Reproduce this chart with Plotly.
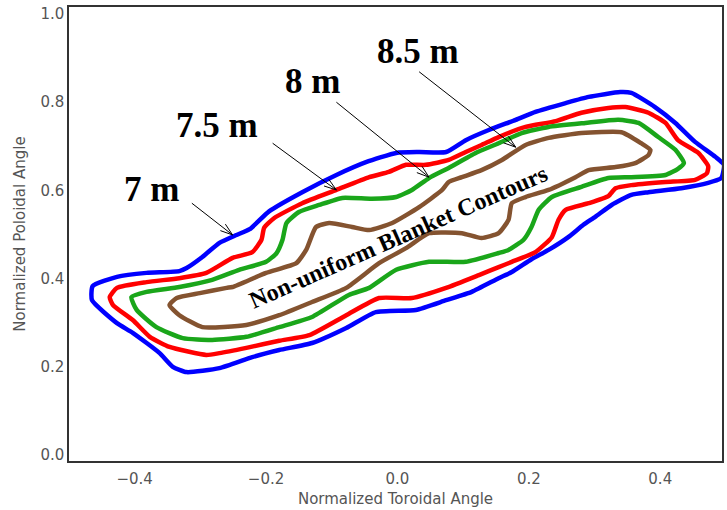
import math
import plotly.graph_objects as go

# ---------------- data (normalized angles) ----------------
blue_x = [-0.465, -0.464, -0.427, -0.382, -0.332, -0.321, -0.297, -0.271, -0.245, -0.225, -0.195, -0.145,
          -0.093, -0.048, -0.002, 0.033, 0.074, 0.104, 0.139, 0.180, 0.210, 0.256, 0.291, 0.339, 0.356,
          0.392, 0.423, 0.453, 0.484, 0.497, 0.493, 0.473, 0.432, 0.382, 0.356, 0.326, 0.301, 0.283,
          0.260, 0.230, 0.204, 0.174, 0.154, 0.113, 0.074, 0.028, -0.033, -0.078, -0.130, -0.180,
          -0.221, -0.271, -0.321, -0.342, -0.362, -0.403, -0.427]
blue_y = [0.351, 0.383, 0.404, 0.413, 0.417, 0.424, 0.449, 0.481, 0.499, 0.512, 0.553, 0.596,
          0.635, 0.664, 0.685, 0.687, 0.687, 0.714, 0.737, 0.760, 0.778, 0.798, 0.812, 0.823, 0.821,
          0.789, 0.753, 0.710, 0.676, 0.658, 0.628, 0.617, 0.605, 0.596, 0.590, 0.567, 0.540, 0.522,
          0.494, 0.465, 0.444, 0.415, 0.401, 0.370, 0.351, 0.329, 0.324, 0.288, 0.254, 0.238,
          0.222, 0.197, 0.188, 0.200, 0.231, 0.277, 0.299]

red_x = [-0.438, -0.427, -0.382, -0.332, -0.291, -0.251, -0.221, -0.207, -0.203, -0.188, -0.145, -0.093,
         -0.043, -0.013, 0.013, 0.043, 0.078, 0.104, 0.128, 0.154, 0.195, 0.241, 0.280, 0.321, 0.347,
         0.382, 0.408, 0.427, 0.458, 0.473, 0.471, 0.453, 0.408, 0.356, 0.332, 0.321, 0.291, 0.256,
         0.245, 0.235, 0.210, 0.174, 0.154, 0.124, 0.074, 0.022, -0.028, -0.078, -0.134, -0.180,
         -0.230, -0.271, -0.291, -0.347, -0.377, -0.403, -0.433]
red_y = [0.358, 0.379, 0.392, 0.401, 0.413, 0.447, 0.460, 0.488, 0.515, 0.537, 0.571, 0.601,
         0.630, 0.642, 0.658, 0.658, 0.669, 0.687, 0.703, 0.721, 0.744, 0.757, 0.776, 0.787, 0.789,
         0.776, 0.753, 0.714, 0.685, 0.655, 0.639, 0.624, 0.619, 0.612, 0.605, 0.587, 0.571, 0.556,
         0.533, 0.494, 0.460, 0.438, 0.426, 0.408, 0.379, 0.356, 0.356, 0.317, 0.272, 0.259,
         0.243, 0.231, 0.227, 0.245, 0.268, 0.306, 0.340]

green_x = [-0.405, -0.382, -0.332, -0.282, -0.241, -0.200, -0.184, -0.175, -0.169, -0.150, -0.119, -0.084,
           -0.039, -0.002, 0.022, 0.048, 0.078, 0.119, 0.154, 0.189, 0.230, 0.286, 0.336, 0.367, 0.397,
           0.423, 0.436, 0.427, 0.408, 0.356, 0.321, 0.280, 0.235, 0.215, 0.204, 0.192, 0.169, 0.154,
           0.104, 0.048, -0.002, -0.043, -0.074, -0.130, -0.180, -0.230, -0.282, -0.327, -0.367, -0.397]
green_y = [0.358, 0.370, 0.381, 0.397, 0.420, 0.438, 0.458, 0.488, 0.526, 0.551, 0.567, 0.583,
           0.581, 0.585, 0.601, 0.628, 0.651, 0.685, 0.707, 0.730, 0.744, 0.753, 0.760, 0.753, 0.721,
           0.692, 0.662, 0.649, 0.635, 0.630, 0.628, 0.608, 0.585, 0.556, 0.517, 0.488, 0.465, 0.458,
           0.438, 0.438, 0.420, 0.379, 0.363, 0.313, 0.290, 0.268, 0.261, 0.265, 0.290, 0.329]

brown_x = [-0.347, -0.336, -0.301, -0.260, -0.251, -0.200, -0.154, -0.139, -0.124, -0.104, -0.069, -0.043,
           -0.008, 0.033, 0.068, 0.078, 0.098, 0.128, 0.159, 0.195, 0.230, 0.280, 0.341, 0.371, 0.385,
           0.382, 0.362, 0.332, 0.291, 0.271, 0.230, 0.195, 0.174, 0.169, 0.154, 0.128, 0.098, 0.048,
           0.013, -0.028, -0.078, -0.130, -0.180, -0.230, -0.297, -0.332]
brown_y = [0.340, 0.356, 0.367, 0.379, 0.381, 0.413, 0.435, 0.465, 0.517, 0.526, 0.517, 0.510,
           0.526, 0.562, 0.601, 0.619, 0.630, 0.646, 0.669, 0.703, 0.719, 0.730, 0.732, 0.707, 0.692,
           0.680, 0.662, 0.653, 0.646, 0.630, 0.601, 0.585, 0.571, 0.533, 0.503, 0.492, 0.503, 0.503,
           0.469, 0.435, 0.379, 0.347, 0.317, 0.295, 0.290, 0.317]

contour_labels = ["7 m", "7.5 m", "8 m", "8.5 m"]
label_x = [-0.374, -0.274, -0.130, 0.031]
label_y = [0.601, 0.748, 0.848, 0.914]
arrow_tail_x = [-0.313, -0.190, -0.093, 0.033]
arrow_tail_y = [0.571, 0.707, 0.800, 0.869]
arrow_head_x = [-0.251, -0.093, 0.048, 0.180]
arrow_head_y = [0.499, 0.601, 0.630, 0.698]

center_text = "Non-uniform Blanket Contours"
center_text_x = 0.001
center_text_y = 0.494

x_ticks = [-0.4, -0.2, 0.0, 0.2, 0.4]
x_ticktext = ["\u22120.4", "\u22120.2", "0.0", "0.2", "0.4"]
y_ticks = [0.0, 0.2, 0.4, 0.6, 0.8, 1.0]
y_ticktext = ["0.0", "0.2", "0.4", "0.6", "0.8", "1.0"]

# ---------------- layout constants ----------------
W, H = 727, 510
ML, MR, MT, MB = 69, 3, 7, 49
XR = [-0.5, 0.494]
YR = [-0.0136, 1.0159]
PW, PH = W - ML - MR, H - MT - MB

fig = go.Figure()

series = [
    (blue_x, blue_y, "#0000ff", "7 m"),
    (red_x, red_y, "#ff0000", "7.5 m"),
    (green_x, green_y, "#1aa61a", "8 m"),
    (brown_x, brown_y, "#845330", "8.5 m"),
]
for xs, ys, col, name in series:
    fig.add_trace(go.Scatter(
        x=xs + [xs[0]], y=ys + [ys[0]], mode="lines", name=name,
        line=dict(color=col, width=4.5, shape="spline", smoothing=0.5),
        showlegend=False, hoverinfo="skip"))


def to_px(x, y):
    return ((x - XR[0]) / (XR[1] - XR[0]) * PW, (y - YR[0]) / (YR[1] - YR[0]) * PH)


def to_data(px, py):
    return (XR[0] + px / PW * (XR[1] - XR[0]), YR[0] + py / PH * (YR[1] - YR[0]))


shapes = []
for tx, ty, hx, hy in zip(arrow_tail_x, arrow_tail_y, arrow_head_x, arrow_head_y):
    shapes.append(dict(type="line", xref="x", yref="y", x0=tx, y0=ty, x1=hx, y1=hy,
                       line=dict(color="black", width=1)))
    tpx, tpy = to_px(tx, ty)
    hpx, hpy = to_px(hx, hy)
    ang = math.atan2(tpy - hpy, tpx - hpx)
    L = 13
    for da in (0.32, -0.32):
        wx, wy = to_data(hpx + L * math.cos(ang + da), hpy + L * math.sin(ang + da))
        shapes.append(dict(type="line", xref="x", yref="y", x0=hx, y0=hy, x1=wx, y1=wy,
                           line=dict(color="black", width=1)))

annotations = []
for t, x, y in zip(contour_labels, label_x, label_y):
    annotations.append(dict(x=x, y=y, xref="x", yref="y", text="<b>" + t + "</b>", showarrow=False,
                            font=dict(family="Liberation Serif", size=35, color="black"),
                            xanchor="center", yanchor="middle"))
annotations.append(dict(x=center_text_x, y=center_text_y, xref="x", yref="y",
                        text="<b>" + center_text + "</b>", showarrow=False, textangle=-23.7,
                        font=dict(family="Liberation Serif", size=24, color="black"),
                        xanchor="center", yanchor="middle"))

axis_common = dict(showline=True, linecolor="#333333", linewidth=1.5, mirror=True,
                   showgrid=False, zeroline=False, ticks="",
                   tickfont=dict(family="DejaVu Sans", size=15, color="#555555"))

fig.update_layout(
    width=W, height=H,
    margin=dict(l=ML, r=MR, t=MT, b=MB, pad=0),
    paper_bgcolor="white", plot_bgcolor="white",
    xaxis=dict(range=XR, tickvals=x_ticks, ticktext=x_ticktext, ticklabelstandoff=3,
               title=dict(text="Normalized Toroidal Angle", standoff=7,
                          font=dict(family="DejaVu Sans", size=15, color="#555555")),
               **axis_common),
    yaxis=dict(range=YR, tickvals=y_ticks, ticktext=y_ticktext,
               title=dict(text="Normalized Poloidal Angle", standoff=11,
                          font=dict(family="DejaVu Sans", size=15, color="#555555")),
               **axis_common),
    shapes=shapes,
    annotations=annotations,
)

fig.write_html("out.html")
